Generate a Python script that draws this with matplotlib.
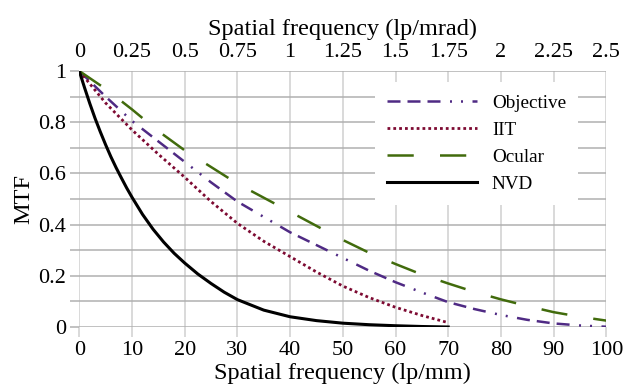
import matplotlib
matplotlib.use("Agg")
import matplotlib.pyplot as plt
from matplotlib.ticker import MultipleLocator

plt.rcParams['font.family'] = ['Liberation Serif', 'DejaVu Serif']

# --- data (lp/mm vs MTF) ---
freq_100 = [0, 5, 10, 15, 20, 25, 30, 35, 40, 45, 50, 55, 60, 65, 70, 75, 80, 85, 90, 95, 100]
mtf_objective = [1.0, 0.90, 0.805, 0.725, 0.645, 0.565, 0.49, 0.43, 0.37, 0.32, 0.27,
                 0.22, 0.175, 0.135, 0.097, 0.07, 0.047, 0.028, 0.014, 0.006, 0.001]
mtf_ocular = [1.0, 0.93, 0.85, 0.765, 0.69, 0.625, 0.56, 0.505, 0.45, 0.395, 0.34,
              0.29, 0.246, 0.205, 0.17, 0.137, 0.108, 0.082, 0.058, 0.04, 0.025]

freq_70 = [0, 5, 10, 15, 20, 25, 30, 35, 40, 45, 50, 55, 60, 65, 70]
mtf_iit = [1.0, 0.875, 0.77, 0.675, 0.585, 0.49, 0.405, 0.335, 0.275, 0.215, 0.16,
           0.115, 0.077, 0.045, 0.017]

freq_nvd = [0, 1, 2, 3, 4, 5, 6, 7, 8, 9, 10, 12, 14, 16, 18, 20, 22.5, 25, 27.5, 30,
            35, 40, 45, 50, 55, 60, 65, 70]
mtf_nvd = [1.0, 0.935, 0.873, 0.815, 0.762, 0.712, 0.665, 0.622, 0.582, 0.543, 0.507,
           0.44, 0.382, 0.332, 0.288, 0.25, 0.207, 0.17, 0.136, 0.107, 0.066, 0.04,
           0.025, 0.015, 0.009, 0.005, 0.002, 0.0]

col_obj = '#4f2a84'
col_iit = '#7d0a32'
col_oc = '#416b0c'
fs_tick = 16
fs_label = 17.5

fig = plt.figure(figsize=(6.29, 3.90), dpi=100)
ax = fig.add_axes([0.126, 0.1615, 0.838, 0.6565])

ax.plot(freq_100, mtf_objective, color=col_obj, lw=1.8,
        linestyle=(0, (5.2, 2.8, 5.2, 2.8, 5.2, 3.8, 0.8, 3.6, 0.8, 3.8)), label='Objective')
ax.plot(freq_70, mtf_iit, color=col_iit, lw=2.0, linestyle=(0, (1, 1.1)), label='IIT')
ax.plot(freq_100, mtf_ocular, color=col_oc, lw=1.8, linestyle=(0, (10.5, 10.5)), label='Ocular')
ax.plot(freq_nvd, mtf_nvd, color='black', lw=2.2, label='NVD')

ax.set_xlim(0, 100)
ax.set_ylim(0, 1)
ax.xaxis.set_major_locator(MultipleLocator(10))
ax.yaxis.set_minor_locator(MultipleLocator(0.1))
ax.set_yticks([0, 0.2, 0.4, 0.6, 0.8, 1.0])
ax.set_yticklabels(['0', '0.2', '0.4', '0.6', '0.8', '1'])

for s in ax.spines.values():
    s.set_visible(False)
ax.grid(True, axis='x', color='#d0d0d0', lw=1.1)
ax.grid(True, axis='y', which='both', color='#b0b0b0', lw=1.1)
ax.set_axisbelow(True)
ax.tick_params(axis='x', length=7, width=1.1, color='#d0d0d0', labelsize=fs_tick, pad=3)
ax.tick_params(axis='y', which='both', length=6.5, width=1.1, color='#b0b0b0',
               labelsize=fs_tick, pad=3)

ax.set_xlabel('Spatial frequency (lp/mm)', fontsize=fs_label, labelpad=2)
ax.set_ylabel('MTF', fontsize=fs_label, labelpad=3)

top = ax.secondary_xaxis('top', functions=(lambda f: f / 40.0, lambda m: m * 40.0))
top.set_xticks([0, 0.25, 0.5, 0.75, 1, 1.25, 1.5, 1.75, 2, 2.25, 2.5])
top.set_xticklabels(['0', '0.25', '0.5', '0.75', '1', '1.25', '1.5', '1.75', '2', '2.25', '2.5'])
top.tick_params(length=0, labelsize=fs_tick, pad=6.5)
for s in top.spines.values():
    s.set_visible(False)
top.set_xlabel('Spatial frequency (lp/mrad)', fontsize=fs_label, labelpad=6)

leg = ax.legend(loc='upper left', bbox_to_anchor=(0.561, 0.957), borderaxespad=0,
                fontsize=13.8, handlelength=4.7, handletextpad=0.75, labelspacing=0.5,
                borderpad=0.65, frameon=True, fancybox=False, framealpha=1,
                facecolor='white', edgecolor='none')

fig.savefig('out.png', dpi=100)
